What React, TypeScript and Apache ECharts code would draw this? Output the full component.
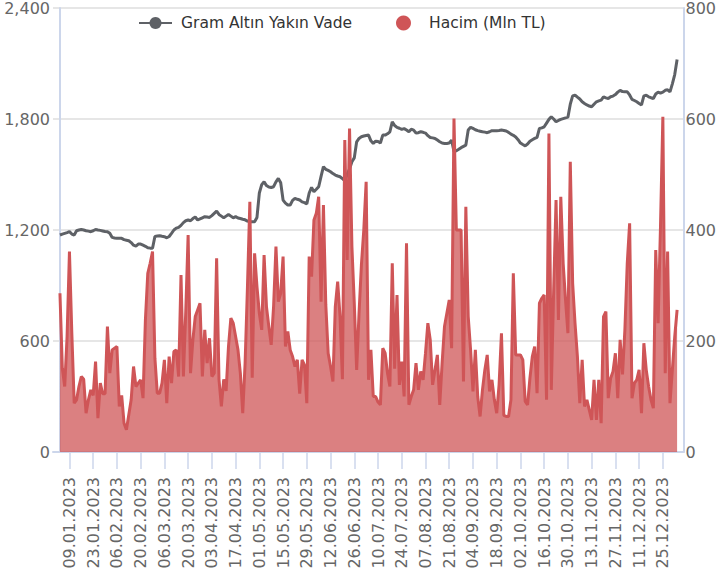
import React, { useEffect, useRef } from "react";
import * as echarts from "echarts";

// Business days 03.01.2023 .. 02.01.2024 (category labels)
const START = Date.UTC(2023, 0, 3);
const END = Date.UTC(2024, 0, 2);
const dates: string[] = [];
for (let t = START; t <= END; t += 86400000) {
  const d = new Date(t);
  const wd = d.getUTCDay();
  if (wd === 0 || wd === 6) continue;
  const dd = String(d.getUTCDate()).padStart(2, "0");
  const mm = String(d.getUTCMonth() + 1).padStart(2, "0");
  dates.push(`${dd}.${mm}.${d.getUTCFullYear()}`);
}

const tickLabels = [
  "09.01.2023", "23.01.2023", "06.02.2023", "20.02.2023", "06.03.2023", "20.03.2023",
  "03.04.2023", "17.04.2023", "01.05.2023", "15.05.2023", "29.05.2023", "12.06.2023",
  "26.06.2023", "10.07.2023", "24.07.2023", "07.08.2023", "21.08.2023", "04.09.2023",
  "18.09.2023", "02.10.2023", "16.10.2023", "30.10.2023", "13.11.2023", "27.11.2023",
  "11.12.2023", "25.12.2023",
];

const goldName = "Gram Altın Yakın Vade";
const volumeName = "Hacim (Mln TL)";

const goldValues = [
  1173, 1178, 1182, 1186, 1191, 1178, 1173, 1196, 1200, 1203,
  1200, 1196, 1194, 1191, 1196, 1203, 1200, 1198, 1195, 1192,
  1191, 1182, 1160, 1157, 1155, 1155, 1155, 1148, 1145, 1142,
  1132, 1118, 1113, 1124, 1124, 1118, 1112, 1104, 1102, 1101,
  1165, 1167, 1169, 1166, 1164, 1158, 1165, 1182, 1200, 1210,
  1214, 1225, 1240, 1250, 1254, 1250, 1262, 1270, 1254, 1260,
  1266, 1272, 1270, 1268, 1278, 1290, 1302, 1284, 1275, 1266,
  1275, 1284, 1275, 1266, 1272, 1265, 1262, 1258, 1255, 1248,
  1245, 1245, 1245, 1268, 1400, 1445, 1461, 1440, 1432, 1430,
  1434, 1460, 1479, 1455, 1362, 1345, 1335, 1335, 1360, 1371,
  1366, 1362, 1352, 1348, 1341, 1400, 1430, 1407, 1420, 1434,
  1490, 1542, 1528, 1522, 1515, 1505, 1497, 1492, 1488, 1478,
  1465, 1500, 1530, 1569, 1590, 1677, 1695, 1704, 1708, 1711,
  1713, 1682, 1668, 1680, 1678, 1670, 1713, 1713, 1720, 1731,
  1785, 1765, 1755, 1750, 1744, 1748, 1740, 1731, 1745, 1740,
  1724, 1726, 1731, 1728, 1724, 1710, 1700, 1698, 1695, 1686,
  1677, 1670, 1668, 1668, 1670, 1686, 1625, 1628, 1636, 1645,
  1652, 1659, 1740, 1755, 1749, 1742, 1737, 1734, 1731, 1729,
  1726, 1731, 1737, 1737, 1737, 1738, 1740, 1738, 1735, 1728,
  1718, 1712, 1703, 1688, 1670, 1662, 1655, 1665, 1680, 1688,
  1695, 1701, 1749, 1752, 1758, 1778, 1798, 1812, 1800, 1785,
  1792, 1798, 1802, 1806, 1810, 1880, 1925, 1929, 1918, 1908,
  1893, 1884, 1876, 1870, 1866, 1880, 1893, 1898, 1902, 1920,
  1914, 1911, 1920, 1924, 1932, 1945, 1955, 1948, 1947, 1947,
  1930, 1906, 1900, 1893, 1884, 1876, 1925, 1928, 1920, 1915,
  1911, 1935, 1945, 1940, 1945, 1955, 1958, 1947, 1990, 2040,
  2122,
];

const volumeValues = [
  286, 151, 118, 208, 361, 214, 88, 94, 118, 136,
  131, 70, 94, 112, 102, 163, 61, 124, 105, 105,
  226, 142, 184, 187, 190, 82, 102, 52, 40, 67,
  94, 154, 118, 124, 130, 97, 238, 322, 340, 361,
  169, 106, 106, 124, 166, 88, 172, 124, 181, 184,
  136, 319, 136, 253, 391, 142, 202, 244, 256, 268,
  136, 220, 160, 205, 136, 142, 349, 131, 82, 131,
  110, 190, 241, 232, 208, 184, 142, 70, 160, 298,
  451, 134, 358, 298, 250, 220, 355, 262, 226, 193,
  262, 370, 271, 286, 352, 190, 217, 184, 172, 154,
  166, 105, 166, 157, 88, 352, 316, 418, 430, 460,
  271, 445, 265, 178, 154, 127, 262, 307, 244, 131,
  562, 346, 583, 370, 268, 148, 250, 337, 400, 487,
  130, 184, 100, 100, 90, 85, 187, 178, 142, 118,
  340, 150, 283, 121, 163, 100, 376, 85, 100, 112,
  160, 112, 145, 130, 178, 232, 202, 121, 148, 175,
  85, 160, 226, 250, 274, 187, 601, 400, 400, 400,
  127, 442, 244, 184, 109, 184, 100, 64, 112, 148,
  175, 109, 130, 94, 70, 121, 214, 66, 64, 64,
  94, 322, 175, 175, 175, 166, 91, 85, 133, 172,
  190, 106, 268, 277, 283, 94, 574, 112, 292, 454,
  238, 460, 340, 274, 214, 523, 304, 232, 172, 88,
  166, 82, 94, 76, 58, 130, 58, 130, 52, 244,
  253, 97, 133, 145, 178, 97, 202, 140, 220, 340,
  412, 97, 124, 130, 148, 70, 196, 148, 118, 94,
  79, 364, 232, 406, 604, 142, 361, 88, 148, 208,
  256,
];

const GOLD = "#5e6166";
const RED = "#cf5557";
const AXIS = "#ccd6eb";
const FONT = "DejaVu Sans";

export default function App() {
  const ref = useRef<HTMLDivElement>(null);
  useEffect(() => {
    if (!ref.current) return;
    const chart = echarts.init(ref.current, null, { renderer: "svg" });
    const tickIdx = tickLabels.map((l) => dates.indexOf(l));
    const labelStyle = { fontFamily: FONT, fontSize: 16, color: "#666666" };
    chart.setOption({
      animation: false,
      grid: { left: 53, right: 32, top: 8, bottom: 121 },
      legend: [
        {
          data: [goldName],
          left: 133,
          top: 10,
          itemWidth: 33,
          itemHeight: 15,
          selectedMode: false,
          textStyle: { fontFamily: FONT, fontSize: 15.5, color: "#333333", padding: [0, 0, 0, 4] },
        },
        {
          data: [{ name: volumeName, icon: "circle" }],
          left: 391,
          top: 10,
          itemWidth: 33,
          itemHeight: 15,
          selectedMode: false,
          textStyle: { fontFamily: FONT, fontSize: 15.5, color: "#333333", padding: [0, 0, 0, 4] },
        },
      ],
      xAxis: {
        type: "value",
        min: -2.93,
        max: 262.68,
        splitLine: { show: false },
        axisLine: { show: true, onZero: false, lineStyle: { color: AXIS, width: 2 } },
        axisTick: { show: true, customValues: tickIdx, length: 17, lineStyle: { color: AXIS, width: 1.5 } },
        axisLabel: {
          ...labelStyle,
          customValues: tickIdx,
          rotate: 90,
          margin: 25,
          padding: [7, 0, 0, 0],
          formatter: (v: number) => dates[Math.round(v)] ?? "",
        },
      },
      yAxis: [
        {
          type: "value",
          min: 0,
          max: 2400,
          interval: 600,
          axisLine: { show: true, lineStyle: { color: AXIS, width: 2 } },
          axisTick: { show: false },
          splitLine: { show: true, lineStyle: { color: "#e6e6e6", width: 2 } },
          axisLabel: {
            ...labelStyle,
            margin: 3,
            formatter: (v: number) => v.toLocaleString("en-US"),
          },
        },
        {
          type: "value",
          min: 0,
          max: 800,
          interval: 200,
          position: "right",
          axisLine: { show: true, lineStyle: { color: AXIS, width: 2 } },
          axisTick: { show: false },
          splitLine: { show: false },
          axisLabel: { ...labelStyle, margin: 2 },
        },
      ],
      series: [
        {
          name: goldName,
          type: "line",
          yAxisIndex: 0,
          data: goldValues.map((v, i) => [i, v]),
          symbol: "circle",
          showSymbol: false,
          lineStyle: { color: GOLD, width: 3 },
          itemStyle: { color: GOLD },
          silent: true,
        },
        {
          name: volumeName,
          type: "line",
          yAxisIndex: 1,
          data: volumeValues.map((v, i) => [i, v]),
          symbol: "none",
          lineStyle: { color: RED, width: 3 },
          itemStyle: { color: RED },
          areaStyle: { color: RED, opacity: 0.75 },
          silent: true,
        },
      ],
    });
    return () => chart.dispose();
  }, []);
  return (
    <div
      ref={ref}
      style={{ position: "fixed", left: 0, top: 0, width: 719, height: 573, background: "#ffffff" }}
    />
  );
}
